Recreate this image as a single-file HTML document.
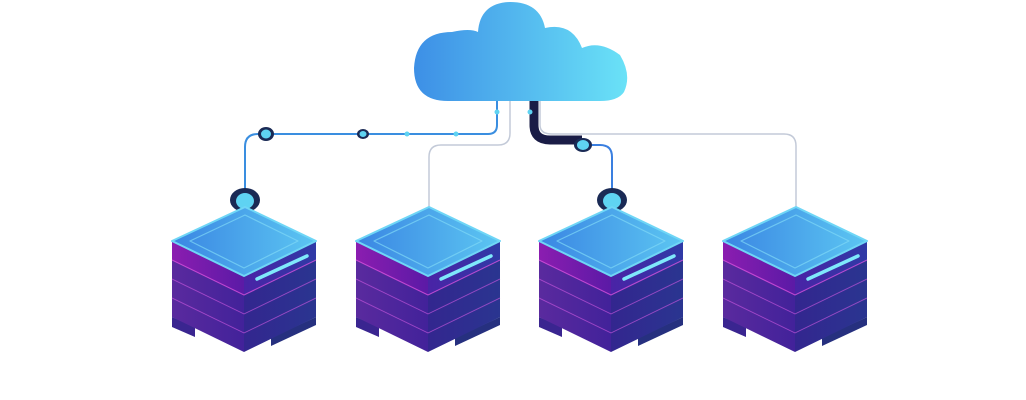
<!DOCTYPE html>
<html><head><meta charset="utf-8"><style>html,body{margin:0;padding:0;background:#fff;width:1026px;height:400px;overflow:hidden}</style></head>
<body>
<svg width="1026" height="400" viewBox="0 0 1026 400" xmlns="http://www.w3.org/2000/svg">
<defs>
<linearGradient id="cg" x1="0" x2="1" y1="0" y2="0"><stop offset="0" stop-color="#3d8fe6"/><stop offset="1" stop-color="#6ae2f7"/></linearGradient>
<linearGradient id="tg" x1="0" x2="1" y1="0" y2="0"><stop offset="0" stop-color="#3a86e3"/><stop offset="1" stop-color="#5cc6f2"/></linearGradient>
<linearGradient id="lg" x1="0" x2="1" y1="0" y2="0"><stop offset="0" stop-color="#8b1db0"/><stop offset="1" stop-color="#5b1aa6"/></linearGradient>
<linearGradient id="rg" x1="0" x2="1" y1="0" y2="0"><stop offset="0" stop-color="#4a23a6"/><stop offset="1" stop-color="#2f3aa6"/></linearGradient>
<linearGradient id="lg2" x1="0" x2="1" y1="0" y2="0"><stop offset="0" stop-color="#5a2a9e"/><stop offset="1" stop-color="#42229a"/></linearGradient>
<linearGradient id="rg2" x1="0" x2="1" y1="0" y2="0"><stop offset="0" stop-color="#33268f"/><stop offset="1" stop-color="#2a3590"/></linearGradient>
<g id="srv">
  <polygon points="-73,110 -50,120 -50,130 -73,120" fill="#3a2590"/>
  <polygon points="26,131 71,110 71,118 26,139" fill="#26307f"/>
  <polygon points="-73,91 -1,126 -1,145 -73,110" fill="url(#lg2)"/><polygon points="-1,126 71,91 71,110 -1,145" fill="url(#rg2)"/>
  <polygon points="-73,72 -1,107 -1,126 -73,91" fill="url(#lg2)"/><polygon points="-1,107 71,72 71,91 -1,126" fill="url(#rg2)"/>
  <polyline points="-73,91 -1,126 71,91" fill="none" stroke="#c04bd8" stroke-width="1" opacity="0.6"/>
  <polygon points="-73,53 -1,88 -1,107 -73,72" fill="url(#lg2)"/><polygon points="-1,88 71,53 71,72 -1,107" fill="url(#rg2)"/>
  <polyline points="-73,72 -1,107 71,72" fill="none" stroke="#c04bd8" stroke-width="1" opacity="0.6"/>
  <polygon points="-73,34 -1,69 -1,88 -73,53" fill="url(#lg)"/><polygon points="-1,69 71,34 71,53 -1,88" fill="url(#rg)"/>
  <polyline points="-73,53 -1,88 71,53" fill="none" stroke="#e04fe0" stroke-width="1.2" opacity="0.7"/>
  <polygon points="-73,34 0,0 71,34 -1,69" fill="url(#tg)" stroke="#6fd6f6" stroke-width="2" stroke-linejoin="round"/>
  <polygon points="-55,34 0,8 53,34 -1,61" fill="none" stroke="#7fd8f7" stroke-width="1.2" opacity="0.7" stroke-linejoin="round"/>
  <line x1="12" y1="72" x2="62" y2="49" stroke="#7fe8fb" stroke-width="3.5" stroke-linecap="round"/>
</g>
</defs>
<path d="M497 100 V125 Q497 134 488 134 H258 Q245 134 245 147 V196" fill="none" stroke="#3a8ee0" stroke-width="2"/>
<path d="M510 100 V133 Q510 145 498 145 H441 Q429 145 429 157 V208" fill="none" stroke="#c3cad8" stroke-width="1.5"/>
<path d="M540 100 V125 Q540 134 552 134 H784 Q796 134 796 146 V208" fill="none" stroke="#c3cad8" stroke-width="1.5"/>
<path d="M583 145 H600 Q612 145 612 157 V196" fill="none" stroke="#3a7fe0" stroke-width="2"/>
<path d="M534 100 V125 Q534 140 550 140 H582" fill="none" stroke="#1a1c46" stroke-width="9"/>
<ellipse cx="266" cy="134" rx="8" ry="7" fill="#1a2a55"/><ellipse cx="266" cy="134" rx="5" ry="4.5" fill="#5fd3f2"/>
<ellipse cx="363" cy="134" rx="6" ry="5" fill="#1a2a55"/><ellipse cx="363" cy="134" rx="3.5" ry="3" fill="#5fd3f2"/>
<circle cx="407" cy="134" r="2.5" fill="#5fd3f2"/><circle cx="456" cy="134" r="2.5" fill="#5fd3f2"/>
<circle cx="497" cy="112" r="2.5" fill="#5fd3f2"/><circle cx="530" cy="112" r="2.5" fill="#5fd3f2"/>
<ellipse cx="583" cy="145" rx="9" ry="7" fill="#1a2a55"/><ellipse cx="583" cy="145" rx="6" ry="5" fill="#5fd3f2"/>
<ellipse cx="245" cy="200" rx="15" ry="12" fill="#1a2a55"/><ellipse cx="245" cy="201" rx="9" ry="8" fill="#5fd3f2"/>
<ellipse cx="612" cy="200" rx="15" ry="12" fill="#1a2a55"/><ellipse cx="612" cy="201" rx="9" ry="8" fill="#5fd3f2"/>
<path d="M448 101 Q414 101 414 68 Q416 32 452 32 Q470 28 478 32 Q480 3 510 2 Q540 2 545 28 Q572 22 582 48 Q600 40 620 55 Q632 75 624 92 Q618 101 600 101 Z" fill="url(#cg)"/>
<use href="#srv" x="245" y="207"/>
<use href="#srv" x="429" y="207"/>
<use href="#srv" x="612" y="207"/>
<use href="#srv" x="796" y="207"/>
</svg>
</body></html>
